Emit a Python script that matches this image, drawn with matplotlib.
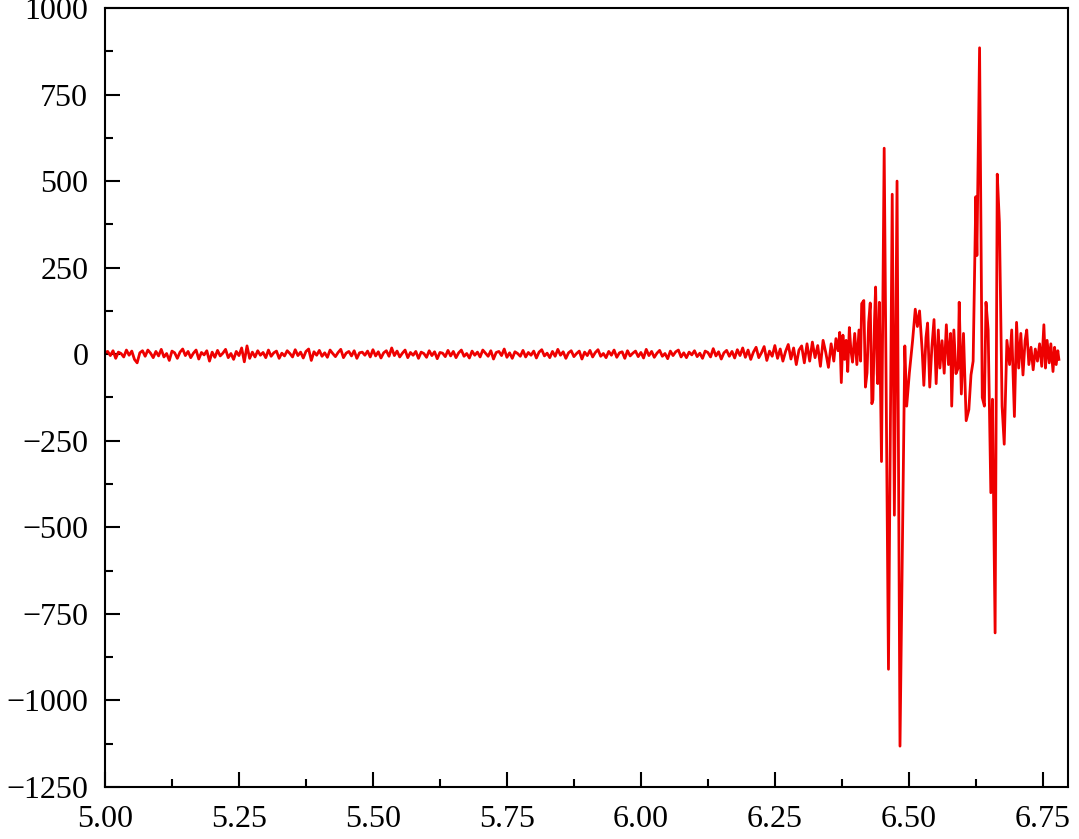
import numpy as np
import matplotlib
matplotlib.use("Agg")
import matplotlib.pyplot as plt
from matplotlib.ticker import MultipleLocator

# quiet part of the record, sampled every 0.005 from 5.000 to 6.300
noise_start = 5.0
noise_step = 0.005
noise_vals = [
    5, 8, -4, 10, -12, 6, 2, -8, 12, -3, 9, -15, -25, 4, 10, -6, 12, 3, -10, 8,
    -5, 14, -8, 2, -18, 9, 4, -12, 6, 15, -4, 8, -10, 3, 12, -14, 5, -2, 10, -20,
    6, -9, 11, -5, 3, 14, -10, 2, -15, 8, -4, 18, -22, 24, -12, 6, -8, 10, -3, 5,
    -10, 12, -6, 4, 9, -12, 3, -5, 10, 2, -8, 13, -4, 6, -11, 8, 15, -18, 7, -3,
    11, -6, 4, -9, 12, 2, -7, 5, 14, -10, 3, 8, -5, 10, -12, 4, 6, -3, 9, -8,
    13, -5, 7, -11, 4, 10, -6, 18, -4, 9, -8, 3, 12, -10, 5, -3, 8, -12, 6, 2,
    -9, 10, -4, 7, -13, 5, 3, -7, 11, -5, 8, -10, 4, 12, -6, 2, -11, 9, -3, 6,
    -8, 12, 3, -6, 10, -14, 5, 8, -4, 15, -9, 4, -12, 7, 2, -6, 11, -8, 5, -3,
    9, -11, 6, 13, -5, 3, -10, 8, -6, 14, -3, 7, -12, 4, 10, -7, 2, 9, -14, 6,
    -4, 11, -8, 5, 13, -6, 2, -10, 8, -3, 12, -9, 4, 7, -12, 10, -5, 3, 9, -7,
    5, -11, 14, -4, 8, -9, 3, 11, -6, 2, -13, 9, -4, 7, 12, -8, 4, -10, 6, -2,
    10, -7, 3, -12, 9, 5, -8, 16, -5, 7, -14, 4, 11, -6, 8, -11, 13, -4, 18, -9,
    12, -15, 6, 20, -10, 4, 22, -18, 9, -6, 25, -12, 15, -20, 8, 28, -14, 18, -30, 12,
    24,
]

# burst part, read point by point
burst_x = [
    6.305, 6.310, 6.315, 6.320, 6.325, 6.330, 6.335, 6.340, 6.345, 6.350,
    6.355, 6.360, 6.364, 6.368, 6.371, 6.374, 6.377, 6.380, 6.383, 6.386,
    6.389, 6.392, 6.395, 6.399, 6.403, 6.407, 6.410, 6.412, 6.416, 6.419,
    6.422, 6.425, 6.428, 6.431, 6.433, 6.436, 6.438, 6.441, 6.442, 6.445,
    6.449, 6.454, 6.462, 6.469, 6.473, 6.478, 6.4835, 6.4925, 6.496, 6.501,
    6.507, 6.512, 6.516, 6.520, 6.525, 6.528, 6.532, 6.535, 6.539, 6.543,
    6.547, 6.551, 6.555, 6.558, 6.562, 6.566, 6.570, 6.574, 6.578, 6.580,
    6.584, 6.588, 6.592, 6.594, 6.598, 6.602, 6.607, 6.612, 6.616, 6.620,
    6.625, 6.627, 6.632, 6.637, 6.641, 6.644, 6.648, 6.653, 6.656, 6.661,
    6.665, 6.669, 6.674, 6.678, 6.683, 6.688, 6.692, 6.697, 6.701, 6.705,
    6.709, 6.713, 6.717, 6.720, 6.724, 6.728, 6.732, 6.736, 6.740, 6.744,
    6.748, 6.752, 6.755, 6.758, 6.762, 6.765, 6.769, 6.772, 6.775, 6.778,
    6.780,
]
burst_y = [
    -25, 30, -20, 35, -10, 25, -35, 40, 5, -38,
    30, -20, 45, 10, 63, -82, 55, -15, 40, -50,
    77, 10, -23, 60, -30, 70, -20, 146, 155, -95,
    -54, 92, 148, -143, -132, 100, 194, -56, -85, 150,
    -310, 595, -910, 462, -465, 500, -1132, 24, -150, -54,
    39, 130, 80, 125, 8, -90, 48, 90, -95, 20,
    100, -85, 70, -40, 39, -55, 85, -30, 60, -150,
    70, -56, -40, 150, -115, 60, -192, -160, -60, -20,
    455, 285, 885, -125, -150, 150, 70, -400, -130, -805,
    520, 380, -150, -260, 40, -30, 70, -180, 92, -40,
    60, -60, 40, 70, -30, 20, -45, 15, -20, 30,
    -35, 85, -40, 40, -25, 30, -50, 20, -30, 10,
    -15,
]

x_ticks = [5.00, 5.25, 5.50, 5.75, 6.00, 6.25, 6.50, 6.75]
y_ticks = [-1250, -1000, -750, -500, -250, 0, 250, 500, 750, 1000]


def main():
    plt.rcParams['font.family'] = ['Liberation Serif', 'DejaVu Serif']
    plt.rcParams['axes.unicode_minus'] = True

    noise_x = noise_start + noise_step * np.arange(len(noise_vals))
    x = np.concatenate([noise_x, burst_x])
    y = np.concatenate([noise_vals, burst_y])

    fig = plt.figure(figsize=(10.79, 8.39), dpi=100)
    ax = fig.add_axes([0.0973, 0.062, 0.8925, 0.9285])
    ax.plot(x, y, color='#ee0000', lw=2.0)

    ax.set_xlim(5.0, 6.797)
    ax.set_ylim(-1250, 1000)
    ax.set_xticks(x_ticks)
    ax.set_xticklabels([f'{v:.2f}' for v in x_ticks])
    ax.set_yticks(y_ticks)
    ax.xaxis.set_minor_locator(MultipleLocator(0.125))
    ax.yaxis.set_minor_locator(MultipleLocator(125))

    ax.tick_params(which='both', direction='in', width=1.5,
                   top=False, right=False, labelsize=23)
    ax.tick_params(which='major', length=11)
    ax.tick_params(which='minor', length=6)
    ax.tick_params(axis='x', pad=13)
    ax.tick_params(axis='y', pad=12)
    for s in ax.spines.values():
        s.set_linewidth(1.5)

    fig.savefig('out.png', dpi=100)


if __name__ == '__main__':
    main()
